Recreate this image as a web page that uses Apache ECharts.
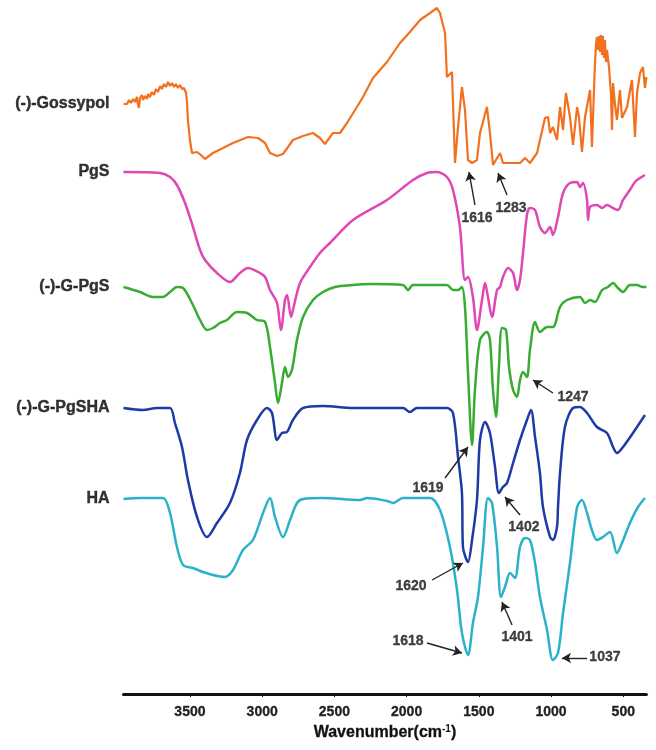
<!DOCTYPE html>
<html>
<head>
<meta charset="utf-8">
<script src="https://cdn.jsdelivr.net/npm/echarts@6/dist/echarts.min.js"></script>
<style>html,body{margin:0;padding:0;background:#fff}#c{width:656px;height:750px}</style>
</head>
<body>
<div id="c"></div>
<script>
// Wavenumber (cm-1) vs relative transmittance (stacked, arbitrary units)
const seriesNames = ['(-)-Gossypol', 'PgS', '(-)-G-PgS', '(-)-G-PgSHA', 'HA'];
const seriesColors = ['#F2711F', '#E047B4', '#38AC30', '#1E3AA6', '#2AB2C9'];
const xTicks = [500, 1000, 1500, 2000, 2500, 3000, 3500];

const gossypol = [[3960,590],[3950,592],[3936,590],[3922,594],[3908,591],[3894,595],[3880,592],[3867,597],[3860,590],[3853,586],[3846,596],[3832,599],[3825,594],[3811,598],[3797,595],[3790,600],[3777,597],[3763,602],[3749,599],[3735,605],[3721,602],[3707,608],[3694,605],[3680,610],[3666,607],[3652,612],[3638,608],[3624,611],[3610,607],[3597,610],[3583,606],[3569,609],[3555,605],[3541,606],[3527,601],[3520,591],[3514,574],[3500,554],[3486,541],[3451,542],[3424,539],[3396,535],[3341,541],[3271,546],[3202,551],[3098,557],[3029,556],[2980,551],[2946,541],[2897,538],[2856,540],[2821,547],[2787,554],[2717,558],[2648,561],[2600,556],[2565,550],[2510,561],[2461,561],[2413,571],[2344,587],[2302,597],[2233,616],[2136,632],[2046,651],[1977,662],[1907,674],[1838,681],[1790,686],[1769,681],[1734,661],[1721,617],[1714,616],[1686,622],[1665,531],[1644,567],[1617,607],[1596,584],[1575,534],[1547,531],[1513,534],[1492,561],[1444,587],[1423,561],[1402,529],[1353,541],[1333,531],[1284,531],[1215,531],[1180,536],[1146,531],[1097,541],[1077,554],[1056,567],[1042,576],[1021,577],[1007,561],[987,567],[959,554],[938,587],[917,564],[897,601],[869,577],[848,549],[820,587],[807,577],[786,542],[765,577],[730,604],[717,547],[696,631],[689,649],[682,657],[675,644],[668,658],[661,642],[654,659],[647,639],[641,658],[634,636],[627,654],[620,632],[613,644],[599,627],[585,599],[578,564],[571,611],[557,589],[544,574],[523,604],[509,576],[474,587],[440,614],[419,557],[405,601],[384,621],[364,627],[350,606],[340,617]];

const pgs = [[3960,522],[3707,521],[3638,517],[3590,509],[3534,491],[3479,467],[3430,444],[3396,434],[3313,421],[3223,412],[3154,421],[3098,426],[3029,422],[2980,417],[2946,404],[2897,391],[2870,364],[2842,394],[2828,399],[2800,377],[2787,384],[2738,411],[2669,427],[2600,441],[2531,451],[2371,474],[2136,494],[1956,514],[1859,521],[1790,522],[1721,517],[1679,504],[1631,467],[1596,414],[1575,417],[1541,397],[1513,364],[1478,394],[1457,411],[1437,397],[1409,377],[1374,404],[1353,407],[1333,417],[1298,426],[1263,421],[1236,404],[1215,414],[1194,441],[1167,479],[1146,486],[1111,484],[1077,467],[1042,461],[1007,467],[987,459],[952,477],[917,501],[869,511],[820,512],[800,507],[779,511],[751,494],[744,474],[730,487],[682,489],[647,486],[613,489],[571,486],[537,484],[502,494],[454,504],[419,512],[384,516],[350,519]];

const gpgs = [[3960,407],[3846,402],[3756,397],[3687,397],[3638,402],[3590,407],[3548,406],[3486,391],[3430,374],[3382,364],[3341,366],[3292,371],[3244,374],[3174,382],[3105,381],[3036,374],[2980,372],[2946,347],[2911,311],[2890,291],[2863,311],[2842,327],[2821,317],[2794,324],[2759,354],[2717,377],[2648,394],[2579,402],[2496,407],[2371,409],[2254,410],[2025,409],[1990,404],[1956,409],[1721,409],[1679,404],[1644,404],[1617,407],[1596,387],[1575,321],[1547,249],[1527,304],[1492,354],[1444,362],[1423,354],[1402,304],[1381,277],[1361,327],[1340,366],[1312,364],[1291,327],[1263,304],[1236,297],[1215,314],[1194,322],[1167,317],[1146,344],[1111,372],[1077,362],[1028,367],[987,367],[938,387],[890,394],[800,397],[765,391],[730,394],[696,392],[647,404],[606,407],[571,411],[537,406],[502,402],[454,409],[405,409],[364,407],[340,407]];

const gpgsha = [[3960,286],[3825,284],[3728,286],[3638,286],[3604,271],[3555,247],[3514,214],[3451,177],[3382,157],[3313,171],[3223,191],[3154,221],[3105,254],[3036,274],[2967,286],[2932,281],[2897,254],[2863,261],[2828,262],[2787,274],[2717,286],[2579,288],[2371,286],[2025,286],[1977,282],[1928,286],[1721,286],[1679,281],[1644,237],[1617,201],[1610,147],[1575,132],[1547,154],[1513,194],[1492,254],[1457,272],[1423,261],[1388,227],[1361,201],[1333,207],[1305,211],[1263,231],[1215,254],[1167,274],[1139,284],[1111,257],[1077,221],[1056,187],[1007,157],[987,154],[959,167],[952,187],[938,221],[904,267],[848,286],[800,287],[751,281],[682,267],[613,261],[571,247],[544,241],[502,247],[433,261],[350,279]];

const ha = [[3960,195],[3846,196],[3687,196],[3638,181],[3590,147],[3548,129],[3479,126],[3410,122],[3341,119],[3257,117],[3202,124],[3133,144],[3064,154],[2994,181],[2946,196],[2911,177],[2856,157],[2807,174],[2759,191],[2717,195],[2579,196],[2323,194],[2274,196],[2136,193],[2094,191],[2025,196],[1838,196],[1769,184],[1700,147],[1651,104],[1617,61],[1575,39],[1541,71],[1506,97],[1471,147],[1437,196],[1409,191],[1374,147],[1347,97],[1319,107],[1284,121],[1250,116],[1215,147],[1181,156],[1146,154],[1111,131],[1077,97],[1028,64],[987,34],[952,41],[917,81],[869,131],[820,187],[786,194],[751,181],[717,164],[682,154],[641,157],[592,162],[544,141],[509,151],[454,171],[398,187],[350,196]];

// Peak annotations: label, label position, arrow start, arrow tip
const annoLabels = ['1616', '1283', '1247', '1619', '1402', '1620', '1401', '1618', '1037'];
const annoTextPos = [[1513,476],[1277,486],[848,297],[1852,206],[1188,167],[1970,108],[1236,57],[1990,53],[627,37]];
const annoFrom = [[1527,489],[1305,499],[987,301],[1734,216],[1215,179],[1824,114],[1270,69],[1859,51],[751,36]];
const annoTo = [[1568,522],[1367,521],[1125,314],[1575,247],[1319,197],[1610,131],[1340,92],[1617,41],[924,36]];

const allData = [gossypol, pgs, gpgs, gpgsha, ha];
const FONT = '"Liberation Sans", Arial, Helvetica, sans-serif';

const chart = echarts.init(document.getElementById('c'), null, {renderer: 'canvas'});

const series = allData.map((d, i) => ({
  type: 'line',
  name: seriesNames[i],
  data: d,
  showSymbol: false,
  symbol: 'none',
  smooth: i === 0 ? false : 0.3,
  lineStyle: {color: seriesColors[i], width: i === 0 ? 2.2 : 2.5},
  z: 2
}));

// series name labels at the start of each curve
series.push({
  type: 'scatter',
  symbolSize: 0,
  silent: true,
  data: allData.map((d, i) => ({name: seriesNames[i], value: d[0]})),
  label: {
    show: true, position: 'left', distance: 14,
    formatter: p => p.name,
    fontFamily: FONT, fontWeight: 'bold', fontSize: 16, color: '#000',
    textBorderColor: '#000', textBorderWidth: 0.4
  },
  z: 5
});

// annotation arrows + texts
series.push({
  type: 'scatter',
  symbolSize: 0,
  silent: true,
  data: annoLabels.map((t, i) => ({name: t, value: annoTextPos[i]})),
  label: {
    show: true, position: 'inside',
    formatter: p => p.name,
    fontFamily: FONT, fontWeight: 'bold', fontSize: 14, color: '#111',
    textBorderColor: '#111', textBorderWidth: 0.3
  },
  markLine: {
    silent: true,
    symbol: ['none', 'arrow'],
    symbolSize: [8, 9],
    label: {show: false},
    lineStyle: {color: '#222', width: 1.4, type: 'solid'},
    data: annoLabels.map((t, i) => [{coord: annoFrom[i]}, {coord: annoTo[i]}])
  },
  z: 6
});

chart.setOption({
  animation: false,
  backgroundColor: '#fff',
  grid: {left: 123.5, right: 9.6, top: 0, bottom: 56, containLabel: false},
  xAxis: {
    type: 'value',
    inverse: true,
    min: 340,
    max: 3960,
    name: '{b|Wavenumber(cm}{s|-1}{b|)}',
    nameLocation: 'middle',
    nameGap: 30,
    nameTextStyle: {
      rich: {
        b: {fontFamily: FONT, fontWeight: 'bold', fontSize: 16, color: '#111', textBorderColor: '#111', textBorderWidth: 0.3},
        s: {fontFamily: FONT, fontWeight: 'bold', fontSize: 10, color: '#111', verticalAlign: 'top', padding: [0, 0, 8, 0]}
      }
    },
    axisLine: {lineStyle: {color: '#111', width: 3}},
    axisTick: {show: true, length: 3, lineStyle: {color: '#111', width: 1}, customValues: xTicks},
    axisLabel: {
      customValues: xTicks,
      formatter: v => String(v),
      margin: 11,
      fontFamily: FONT, fontWeight: 'bold', fontSize: 14, color: '#222',
      textBorderColor: '#222', textBorderWidth: 0.3
    },
    splitLine: {show: false}
  },
  yAxis: {
    type: 'value', min: 0, max: 694, show: false, splitLine: {show: false}
  },
  series: series
});
</script>
</body>
</html>
